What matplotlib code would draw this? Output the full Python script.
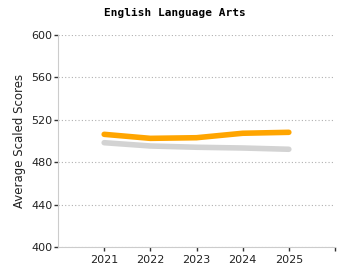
import matplotlib
matplotlib.use('Agg')
import matplotlib.pyplot as plt

years = [2021, 2022, 2023, 2024, 2025]
orange_scores = [506.3, 502.5, 503.1, 507.3, 508.2]
gray_scores = [498.4, 495.3, 494.1, 493.4, 492.2]
y_ticks = [400, 440, 480, 520, 560, 600]

fig = plt.figure(figsize=(3.5, 2.8), dpi=100)
ax = fig.add_axes([58 / 350, 1 - 247 / 280, 277 / 350, 212 / 280])

ax.plot(years, gray_scores, color='#d3d3d3', lw=4, solid_capstyle='round', solid_joinstyle='round')
ax.plot(years, orange_scores, color='#ffa500', lw=4, solid_capstyle='round', solid_joinstyle='round')

ax.set_xlim(2020, 2026)
ax.set_ylim(400, 600)
ax.set_yticks(y_ticks)
ax.set_xticks(years + [2026])
ax.set_xticklabels([str(y) for y in years] + [''])
ax.grid(axis='y', color='#b0b0b0', linestyle=(0, (1, 2)), lw=0.8)
ax.set_axisbelow(True)

for s in ['top', 'right']:
    ax.spines[s].set_visible(False)
ax.spines['left'].set_color('#cccccc')
ax.spines['bottom'].set_color('#cccccc')
ax.tick_params(axis='y', length=3, width=1, color='#333333', labelsize=8, pad=1, labelcolor='#222222')
ax.tick_params(axis='x', length=3, width=1, color='#333333', labelsize=8, pad=3, labelcolor='#222222')

ax.set_ylabel('Average Scaled Scores', fontsize=8.5, color='#222222', labelpad=4)
fig.text(175 / 350, 1 - 13 / 280, 'English Language Arts', ha='center', va='center',
         fontsize=8, fontweight='bold', family='DejaVu Sans Mono')

fig.savefig('out.png', dpi=100)
